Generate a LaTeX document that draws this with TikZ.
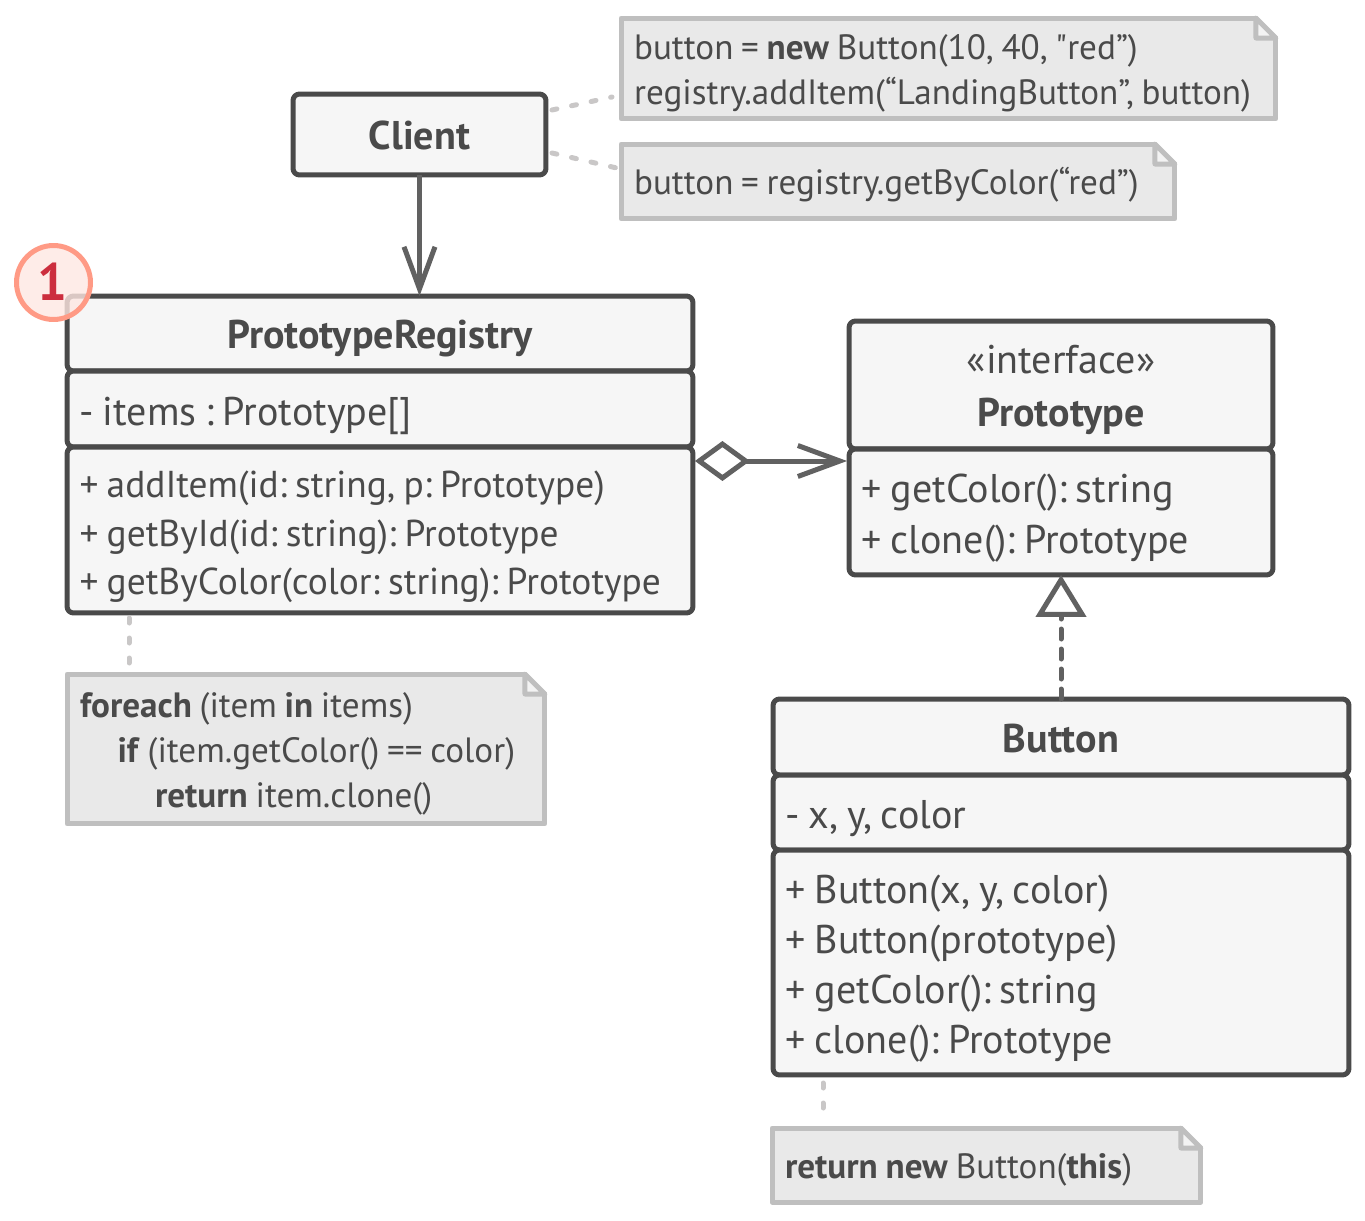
\documentclass[tikz,border=0pt]{standalone}
\usepackage{fontspec}
\setmainfont{PT Sans}
\newfontfamily\plainquote{PT Sans}
\usetikzlibrary{arrows.meta}
\hyphenpenalty=10000
\frenchspacing
\definecolor{inkline}{HTML}{4A4A4A}
\definecolor{linkline}{HTML}{616161}
\definecolor{noteline}{HTML}{BFBFBF}
\definecolor{notefill}{HTML}{E9E9E9}
\definecolor{notedash}{HTML}{C9C7C7}
\definecolor{boxfill}{HTML}{F6F6F6}
\definecolor{badgeline}{HTML}{FF9A85}
\definecolor{badgefill}{HTML}{FEE7E2}
\definecolor{badgetext}{HTML}{CC2E3E}
\newcommand{\notefold}[1]{%
  \fill[white] ([xshift=-0.4cm,yshift=0.06cm]#1.north east) -- ([xshift=0.06cm,yshift=0.06cm]#1.north east)
    -- ([xshift=0.06cm,yshift=-0.4cm]#1.north east) -- cycle;
  \draw[draw=noteline,fill=notefill!55!white,line width=0.1cm] ([xshift=-0.4cm]#1.north east)
    -- ([yshift=-0.4cm]#1.north east) -- ([xshift=-0.4cm,yshift=-0.4cm]#1.north east) -- cycle;
}
\begin{document}
\begin{tikzpicture}[x=0.02cm,y=-0.02cm,line join=round]
  \tikzset{
    ruled/.style={execute at begin node={\spaceskip=0.22em\relax\rule{0pt}{#1}},
      execute at end node={\rule[-0.24cm]{0pt}{0.24cm}}},
    elem/.style={draw=inkline,fill=boxfill,line width=0.1cm,rounded corners=0.13cm,
      inner sep=0pt,outer sep=0pt,text=inkline},
    title/.style={elem,font=\fontsize{22.8}{30}\selectfont\bfseries,align=center,ruled=0.84cm,
      text width=#1-0.2cm,minimum width=#1},
    member/.style={elem,font=\fontsize{22.8}{27.5}\selectfont,align=left,ruled=0.88cm,
      text width=#1-0.5cm,minimum width=#1},
    notebox/.style={draw=noteline,fill=notefill,line width=0.1cm,inner sep=0pt,outer sep=0pt,
      text=inkline,font=\fontsize{20}{25.6}\selectfont,align=left,ruled=0.78cm,text width=#1-0.52cm,
      minimum width=#1},
    notelink/.style={draw=notedash,line width=0.1cm,line cap=round,dash pattern=on 0.1cm off 0.3cm},
    link/.style={draw=linkline,line width=0.1cm},
    barb/.style={-{Straight Barb[length=0.84cm,width=0.62cm,line width=0.1cm]}},
  }
  \useasboundingbox (0,0) rectangle (1365,1220);

  %% notes
  \node (note1) at (948.5,68.5) [notebox=13.1cm,minimum height=2.02cm]
    {button = \textbf{new} Button(10, 40, {\plainquote "}red”)\\registry.addItem(“LandingButton”, button)};
  \node (note2) at (898,181.5) [notebox=11.08cm,minimum height=1.5cm]
    {button = registry.getByColor(“red”)};
  \node (note3) at (306,749) [notebox=9.56cm,minimum height=3cm]
    {\textbf{foreach} (item \textbf{in} items)\\
     \hspace*{0.75cm}\textbf{if} (item.getColor() == color)\\
     \hspace*{1.5cm}\textbf{return} item.clone()};
  \node (note4) at (986.5,1165) [notebox=8.58cm,minimum height=1.48cm]
    {\textbf{return} \textbf{new} Button(\textbf{this})};
  \notefold{note1}
  \notefold{note2}
  \notefold{note3}
  \notefold{note4}

  %% Client
  \node (client) at (419.5,134.5) [title=5.06cm,minimum height=1.62cm,ruled=0.72cm] {Client};

  %% PrototypeRegistry
  \node (regHead) at (380,333.5) [title=12.52cm,minimum height=1.5cm] {PrototypeRegistry};
  \node (regAttr) at (380,409) [member=12.52cm,minimum height=1.52cm] {- items : Prototype[]};
  \node (regOps) at (380,530) [member=12.52cm,minimum height=3.32cm,
    font=\fontsize{21.3}{27.5}\selectfont]
    {+ addItem(id: string, p: Prototype)\\
     + getById(id: string): Prototype\\
     + getByColor(color: string): Prototype};

  %% Prototype
  \node (protoHead) at (1061,385) [title=8.48cm,minimum height=2.56cm]
    {{\mdseries «interface»}\\Prototype};
  \node (protoOps) at (1061,512) [member=8.48cm,minimum height=2.52cm,
    font=\fontsize{22.8}{28.5}\selectfont]
    {+ getColor(): string\\+ clone(): Prototype};

  %% Button
  \node (btnHead) at (1061,737) [title=11.52cm,minimum height=1.52cm] {Button};
  \node (btnAttr) at (1061,812.5) [member=11.52cm,minimum height=1.5cm] {- x, y, color};
  \node (btnOps) at (1061,962.5) [member=11.52cm,minimum height=4.5cm,
    font=\fontsize{22.8}{28.5}\selectfont]
    {+ Button(x, y, color)\\+ Button(prototype)\\+ getColor(): string\\+ clone(): Prototype};

  %% connectors
  \coordinate (aggLevel) at (770,461);
  \coordinate (c1) at (552,110);
  \coordinate (n1) at (612,97);
  \coordinate (c2) at (552,153);
  \coordinate (n2) at (621,169);
  \coordinate (r3) at (129,618);
  \coordinate (n3) at (129,668);
  \coordinate (b4) at (823,1083);
  \coordinate (n4) at (823,1118);

  \draw[notelink] (c1) -- (n1);
  \draw[notelink] (c2) -- (n2);
  \draw[notelink] (r3) -- (n3);
  \draw[notelink] (b4) -- (n4);

  \draw[link,barb] (client.south) -- (client.south |- regHead.north);
  \draw[link,shorten <=0.04cm,shorten >=0.04cm,{Diamond[open,length=1.1cm,width=0.8cm,line width=0.1cm]}-{Straight Barb[length=0.84cm,width=0.62cm,line width=0.1cm]}]
    (regOps.east |- aggLevel) -- (protoOps.west |- aggLevel);
  \draw[link,line cap=round,dash pattern=on 0.2cm off 0.2cm,-{Triangle[open,length=0.84cm,width=1cm,line width=0.1cm,fill=white]}]
    (btnHead.north) -- (protoOps.south);

  %% step badge
  \node (badge) at (53.5,282.5) [circle,draw=badgeline,fill=badgefill,fill opacity=0.8,draw opacity=1,line width=0.1cm,
    inner sep=0pt,outer sep=0pt,minimum size=1.48cm] {};
  \node (badgeNum) at (52.5,281.5) [text=badgetext,font=\fontsize{30}{30}\selectfont\bfseries] {1};
\end{tikzpicture}
\end{document}
